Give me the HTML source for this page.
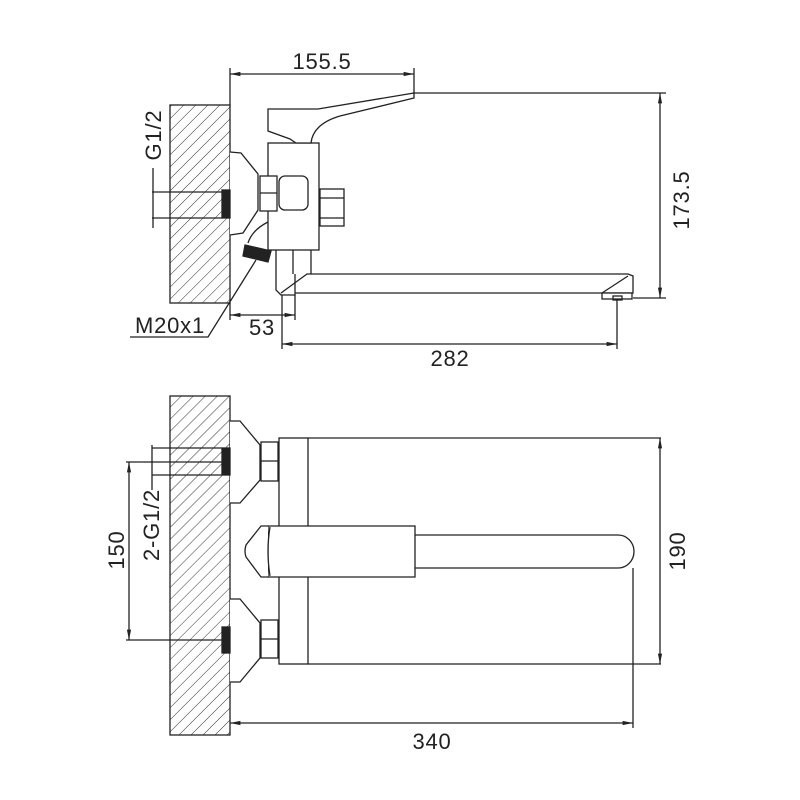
<!DOCTYPE html>
<html><head><meta charset="utf-8"><style>
html,body{margin:0;padding:0;background:#fff;}
svg{display:block;}
text{font-family:"Liberation Sans",sans-serif;fill:#222;letter-spacing:0.8px;}
</style></head><body>
<svg width="800" height="800" viewBox="0 0 800 800" xmlns="http://www.w3.org/2000/svg">
<defs>
<pattern id="h" patternUnits="userSpaceOnUse" width="8.5" height="8.5" patternTransform="rotate(45)">
<line x1="0" y1="0" x2="0" y2="8.5" stroke="#333" stroke-width="1"/>
</pattern>
<marker id="a" viewBox="0 0 10 10" refX="10" refY="5" markerWidth="8" markerHeight="8" orient="auto-start-reverse"><path d="M0,3 L10,5 L0,7" fill="#222"/></marker>
</defs>
<g stroke="#222" stroke-width="1.3" fill="none">
<!-- TOP VIEW -->
<rect x="170" y="105" width="60" height="198" fill="url(#h)"/>
<path d="M230,152 L241,153 L258,174 L258,210 L243,233 L230,235" fill="#fff"/>
<path d="M248,243 Q252,230 268,222"/>
<path d="M245,245 L271,251 L268,262 L243,256 Z" fill="#222"/>
<rect x="222" y="190" width="8" height="28" fill="#222"/>
<rect x="268" y="143" width="51" height="107" fill="#fff"/>
<rect x="260" y="176" width="17" height="35" fill="#fff"/>
<line x1="260" y1="193" x2="277" y2="193"/>
<rect x="279" y="176" width="29" height="34" rx="6" fill="#fff"/>
<rect x="320" y="189" width="24" height="37" fill="#fff"/>
<line x1="320" y1="198" x2="344" y2="198"/>
<line x1="320" y1="218" x2="344" y2="218"/>
<path d="M268,109 L318,109 L414,93 L414,98 L340,116 Q313,124 311,143 L296,143 L290,139 L268,131 Z" fill="#fff"/>
<path d="M276,250 L276,290 L281,295 L295,295 L295,274"/>
<line x1="293" y1="250" x2="293" y2="274"/>
<line x1="311" y1="250" x2="311" y2="274"/>
<path d="M281,293 L307,274 L628,274 L633,276 L633,293 L602,293 L295,293"/>
<path d="M602,293 L628,276"/>
<rect x="602" y="293" width="30" height="6" fill="#fff"/>
<rect x="613" y="296" width="9" height="4"/>
<line x1="152" y1="192" x2="222" y2="192"/>
<line x1="152" y1="218" x2="222" y2="218"/>
<line x1="153" y1="168" x2="153" y2="228"/>
<polyline points="256,260 208,337 130,337"/>
<line x1="230" y1="68" x2="230" y2="105"/>
<line x1="414" y1="68" x2="414" y2="93"/>
<line x1="230" y1="74" x2="414" y2="74" marker-start="url(#a)" marker-end="url(#a)"/>
<line x1="414" y1="93" x2="666" y2="93"/>
<line x1="633" y1="298" x2="666" y2="298"/>
<line x1="660" y1="93" x2="660" y2="298" marker-start="url(#a)" marker-end="url(#a)"/>
<line x1="230" y1="303" x2="230" y2="320"/>
<line x1="295" y1="295" x2="295" y2="320"/>
<line x1="230" y1="315" x2="295" y2="315" marker-start="url(#a)" marker-end="url(#a)"/>
<line x1="282" y1="295" x2="282" y2="349"/>
<line x1="617" y1="300" x2="617" y2="349"/>
<line x1="282" y1="344" x2="617" y2="344" marker-start="url(#a)" marker-end="url(#a)"/>

<!-- BOTTOM VIEW -->
<rect x="170" y="396" width="60" height="339" fill="url(#h)"/>
<path d="M230,421 L240,421 L260,445 L260,480 L240,503 L230,503" fill="#fff"/>
<path d="M230,599 L240,599 L260,623 L260,658 L240,682 L230,682" fill="#fff"/>
<rect x="261" y="442" width="17" height="39" fill="#fff"/>
<line x1="261" y1="461" x2="278" y2="461"/>
<rect x="261" y="620" width="17" height="38" fill="#fff"/>
<line x1="261" y1="639" x2="278" y2="639"/>
<rect x="222" y="448" width="8" height="27" fill="#222"/>
<rect x="222" y="627" width="8" height="26" fill="#222"/>
<rect x="279" y="438" width="29" height="226" fill="#fff"/>
<line x1="308" y1="438" x2="661" y2="438"/>
<line x1="308" y1="664" x2="661" y2="664"/>
<path d="M415,535 L618,535 A16,16.5 0 0 1 618,568 L415,568" fill="#fff"/>
<path d="M268,526 L415,526 L415,577 L268,577 Z" fill="#fff"/>
<path d="M268,526 L261,526 L246,545 Q244,551 246,557 L261,577 L268,577" fill="#fff"/>
<path d="M270,527 Q266,551 270,576"/>
<line x1="152" y1="448" x2="222" y2="448"/>
<line x1="152" y1="475" x2="222" y2="475"/>
<line x1="152" y1="445" x2="152" y2="490"/>
<line x1="126" y1="462" x2="222" y2="462"/>
<line x1="126" y1="640" x2="222" y2="640"/>
<line x1="129" y1="462" x2="129" y2="640" marker-start="url(#a)" marker-end="url(#a)"/>
<line x1="660" y1="438" x2="660" y2="664" marker-start="url(#a)" marker-end="url(#a)"/>
<line x1="633" y1="568" x2="633" y2="728"/>
<line x1="230" y1="723" x2="633" y2="723" marker-start="url(#a)" marker-end="url(#a)"/>
</g>
<g font-size="22">
<text x="322" y="69" text-anchor="middle">155.5</text>
<text x="262" y="335" text-anchor="middle">53</text>
<text x="450" y="366" text-anchor="middle">282</text>
<text x="170" y="333" text-anchor="middle">M20x1</text>
<text transform="translate(161,135) rotate(-90)" text-anchor="middle">G1/2</text>
<text transform="translate(689,200) rotate(-90)" text-anchor="middle">173.5</text>
<text x="432" y="749" text-anchor="middle">340</text>
<text transform="translate(124,550) rotate(-90)" text-anchor="middle">150</text>
<text transform="translate(159,525) rotate(-90)" text-anchor="middle">2-G1/2</text>
<text transform="translate(685,551) rotate(-90)" text-anchor="middle">190</text>
</g>
</svg>
</body></html>
